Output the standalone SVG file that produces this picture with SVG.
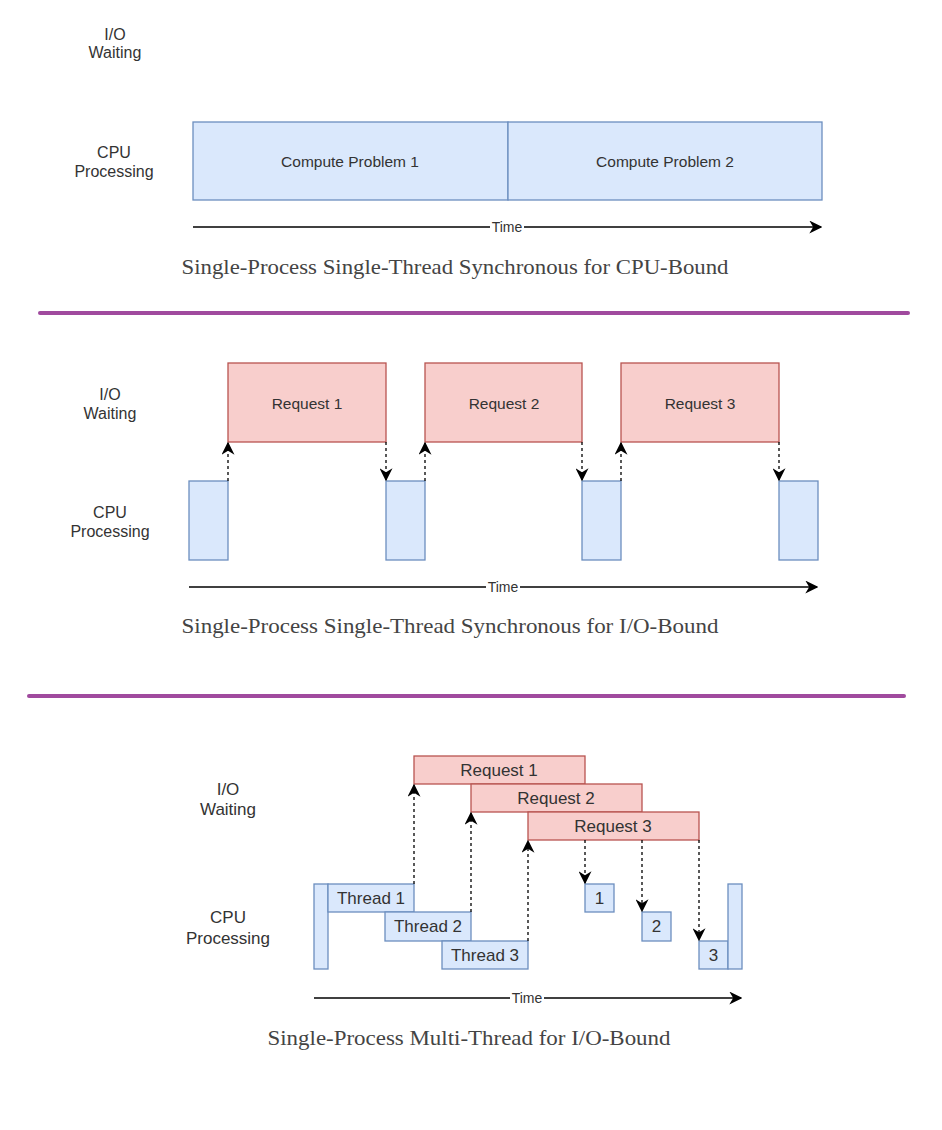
<svg xmlns="http://www.w3.org/2000/svg" width="942" height="1130" viewBox="0 0 942 1130">
<style>
.lbl{font-family:"Liberation Sans",Arial,sans-serif;font-size:16px;fill:#333;text-anchor:middle}
.lbl3{font-family:"Liberation Sans",Arial,sans-serif;font-size:17px;fill:#333;text-anchor:middle}
.box{font-family:"Liberation Sans",Arial,sans-serif;font-size:15.5px;fill:#333;text-anchor:middle;dominant-baseline:central}
.box3{font-family:"Liberation Sans",Arial,sans-serif;font-size:17px;fill:#333;text-anchor:middle;dominant-baseline:central}
.cpu{fill:#dae8fc;stroke:#6c8ebf;stroke-width:1.3}
.io{fill:#f8cecc;stroke:#b85450;stroke-width:1.3}
.axis{stroke:#000;stroke-width:1.3;fill:none}
.dash{stroke:#000;stroke-width:1.3;stroke-dasharray:3 3;fill:none}
.time{font-family:"Liberation Sans",Arial,sans-serif;font-size:14px;fill:#333;text-anchor:middle;dominant-baseline:central}
.cap{font-family:"Liberation Serif","Times New Roman",serif;font-size:21px;fill:#444;text-anchor:middle}
.sep{stroke:#a04a9e;stroke-width:4;stroke-linecap:round}
</style>
<defs>
<marker id="ah" viewBox="0 0 10 10" refX="9" refY="5" markerWidth="13" markerHeight="13" markerUnits="userSpaceOnUse" orient="auto"><path d="M0,0 L10,5 L0,10 L3,5 Z" fill="#000"/></marker>
</defs>
<rect width="942" height="1130" fill="#fff"/>

<!-- Section 1 -->
<g id="s1-labels">
<text class="lbl" x="115" y="40">I/O</text><text class="lbl" x="115" y="58">Waiting</text>
<text class="lbl" x="114" y="158">CPU</text><text class="lbl" x="114" y="177">Processing</text>
</g>
<g id="s1-cp1"><rect class="cpu" x="193" y="122" width="315" height="78"/><text class="box" x="350" y="161">Compute Problem 1</text></g>
<g id="s1-cp2"><rect class="cpu" x="508" y="122" width="314" height="78"/><text class="box" x="665" y="161">Compute Problem 2</text></g>
<g id="s1-connectors">
<line class="axis" x1="193" y1="227" x2="821" y2="227" marker-end="url(#ah)"/>
<rect x="490" y="220" width="34" height="14" fill="#fff"/>
<text class="time" x="507" y="227">Time</text>
</g>
<text class="cap" x="455" y="274" textLength="547" lengthAdjust="spacingAndGlyphs">Single-Process Single-Thread Synchronous for CPU-Bound</text>
<line class="sep" x1="40" y1="313" x2="908" y2="313"/>

<!-- Section 2 -->
<g id="s2-labels">
<text class="lbl" x="110" y="400">I/O</text><text class="lbl" x="110" y="419">Waiting</text>
<text class="lbl" x="110" y="518">CPU</text><text class="lbl" x="110" y="537">Processing</text>
</g>
<g id="s2-req1"><rect class="io" x="228" y="363" width="158" height="79"/><text class="box" x="307" y="403">Request 1</text></g>
<g id="s2-req2"><rect class="io" x="425" y="363" width="157" height="79"/><text class="box" x="504" y="403">Request 2</text></g>
<g id="s2-req3"><rect class="io" x="621" y="363" width="158" height="79"/><text class="box" x="700" y="403">Request 3</text></g>
<g id="s2-cpu1"><rect class="cpu" x="189" y="481" width="39" height="79"/></g>
<g id="s2-cpu2"><rect class="cpu" x="386" y="481" width="39" height="79"/></g>
<g id="s2-cpu3"><rect class="cpu" x="582" y="481" width="39" height="79"/></g>
<g id="s2-cpu4"><rect class="cpu" x="779" y="481" width="39" height="79"/></g>
<g id="s2-connectors">
<line class="dash" x1="228" y1="481" x2="228" y2="443" marker-end="url(#ah)"/>
<line class="dash" x1="386" y1="442" x2="386" y2="480" marker-end="url(#ah)"/>
<line class="dash" x1="425" y1="481" x2="425" y2="443" marker-end="url(#ah)"/>
<line class="dash" x1="582" y1="442" x2="582" y2="480" marker-end="url(#ah)"/>
<line class="dash" x1="621" y1="481" x2="621" y2="443" marker-end="url(#ah)"/>
<line class="dash" x1="779" y1="442" x2="779" y2="480" marker-end="url(#ah)"/>
<line class="axis" x1="189" y1="587" x2="817" y2="587" marker-end="url(#ah)"/>
<rect x="486" y="580" width="34" height="14" fill="#fff"/>
<text class="time" x="503" y="587">Time</text>
</g>
<text class="cap" x="450" y="633" textLength="537" lengthAdjust="spacingAndGlyphs">Single-Process Single-Thread Synchronous for I/O-Bound</text>
<line class="sep" x1="29" y1="696" x2="904" y2="696"/>

<!-- Section 3 -->
<g id="s3-labels">
<text class="lbl3" x="228" y="795">I/O</text><text class="lbl3" x="228" y="815">Waiting</text>
<text class="lbl3" x="228" y="923">CPU</text><text class="lbl3" x="228" y="944">Processing</text>
</g>
<g id="s3-req1"><rect class="io" x="414" y="756" width="171" height="28"/><text class="box3" x="499" y="770">Request 1</text></g>
<g id="s3-req2"><rect class="io" x="471" y="784" width="171" height="28"/><text class="box3" x="556" y="798">Request 2</text></g>
<g id="s3-req3"><rect class="io" x="528" y="812" width="171" height="28"/><text class="box3" x="613" y="826">Request 3</text></g>
<g id="s3-bar-left"><rect class="cpu" x="314" y="884" width="14" height="85"/></g>
<g id="s3-thread1"><rect class="cpu" x="328" y="884" width="86" height="28"/><text class="box3" x="371" y="898">Thread 1</text></g>
<g id="s3-thread2"><rect class="cpu" x="385" y="912" width="86" height="29"/><text class="box3" x="428" y="926">Thread 2</text></g>
<g id="s3-thread3"><rect class="cpu" x="442" y="941" width="86" height="28"/><text class="box3" x="485" y="955">Thread 3</text></g>
<g id="s3-r1"><rect class="cpu" x="585" y="884" width="29" height="28"/><text class="box3" x="599.5" y="898">1</text></g>
<g id="s3-r2"><rect class="cpu" x="642" y="912" width="29" height="29"/><text class="box3" x="656.5" y="926">2</text></g>
<g id="s3-r3"><rect class="cpu" x="699" y="941" width="29" height="28"/><text class="box3" x="713.5" y="955">3</text></g>
<g id="s3-bar-right"><rect class="cpu" x="728" y="884" width="14" height="85"/></g>
<g id="s3-connectors">
<line class="dash" x1="414" y1="884" x2="414" y2="785" marker-end="url(#ah)"/>
<line class="dash" x1="471" y1="912" x2="471" y2="813" marker-end="url(#ah)"/>
<line class="dash" x1="528" y1="941" x2="528" y2="841" marker-end="url(#ah)"/>
<line class="dash" x1="585" y1="840" x2="585" y2="883" marker-end="url(#ah)"/>
<line class="dash" x1="642" y1="840" x2="642" y2="911" marker-end="url(#ah)"/>
<line class="dash" x1="699" y1="840" x2="699" y2="940" marker-end="url(#ah)"/>
<line class="axis" x1="314" y1="998" x2="741" y2="998" marker-end="url(#ah)"/>
<rect x="510" y="991" width="34" height="14" fill="#fff"/>
<text class="time" x="527" y="998">Time</text>
</g>
<text class="cap" x="469" y="1045" textLength="403" lengthAdjust="spacingAndGlyphs">Single-Process Multi-Thread for I/O-Bound</text>
</svg>
